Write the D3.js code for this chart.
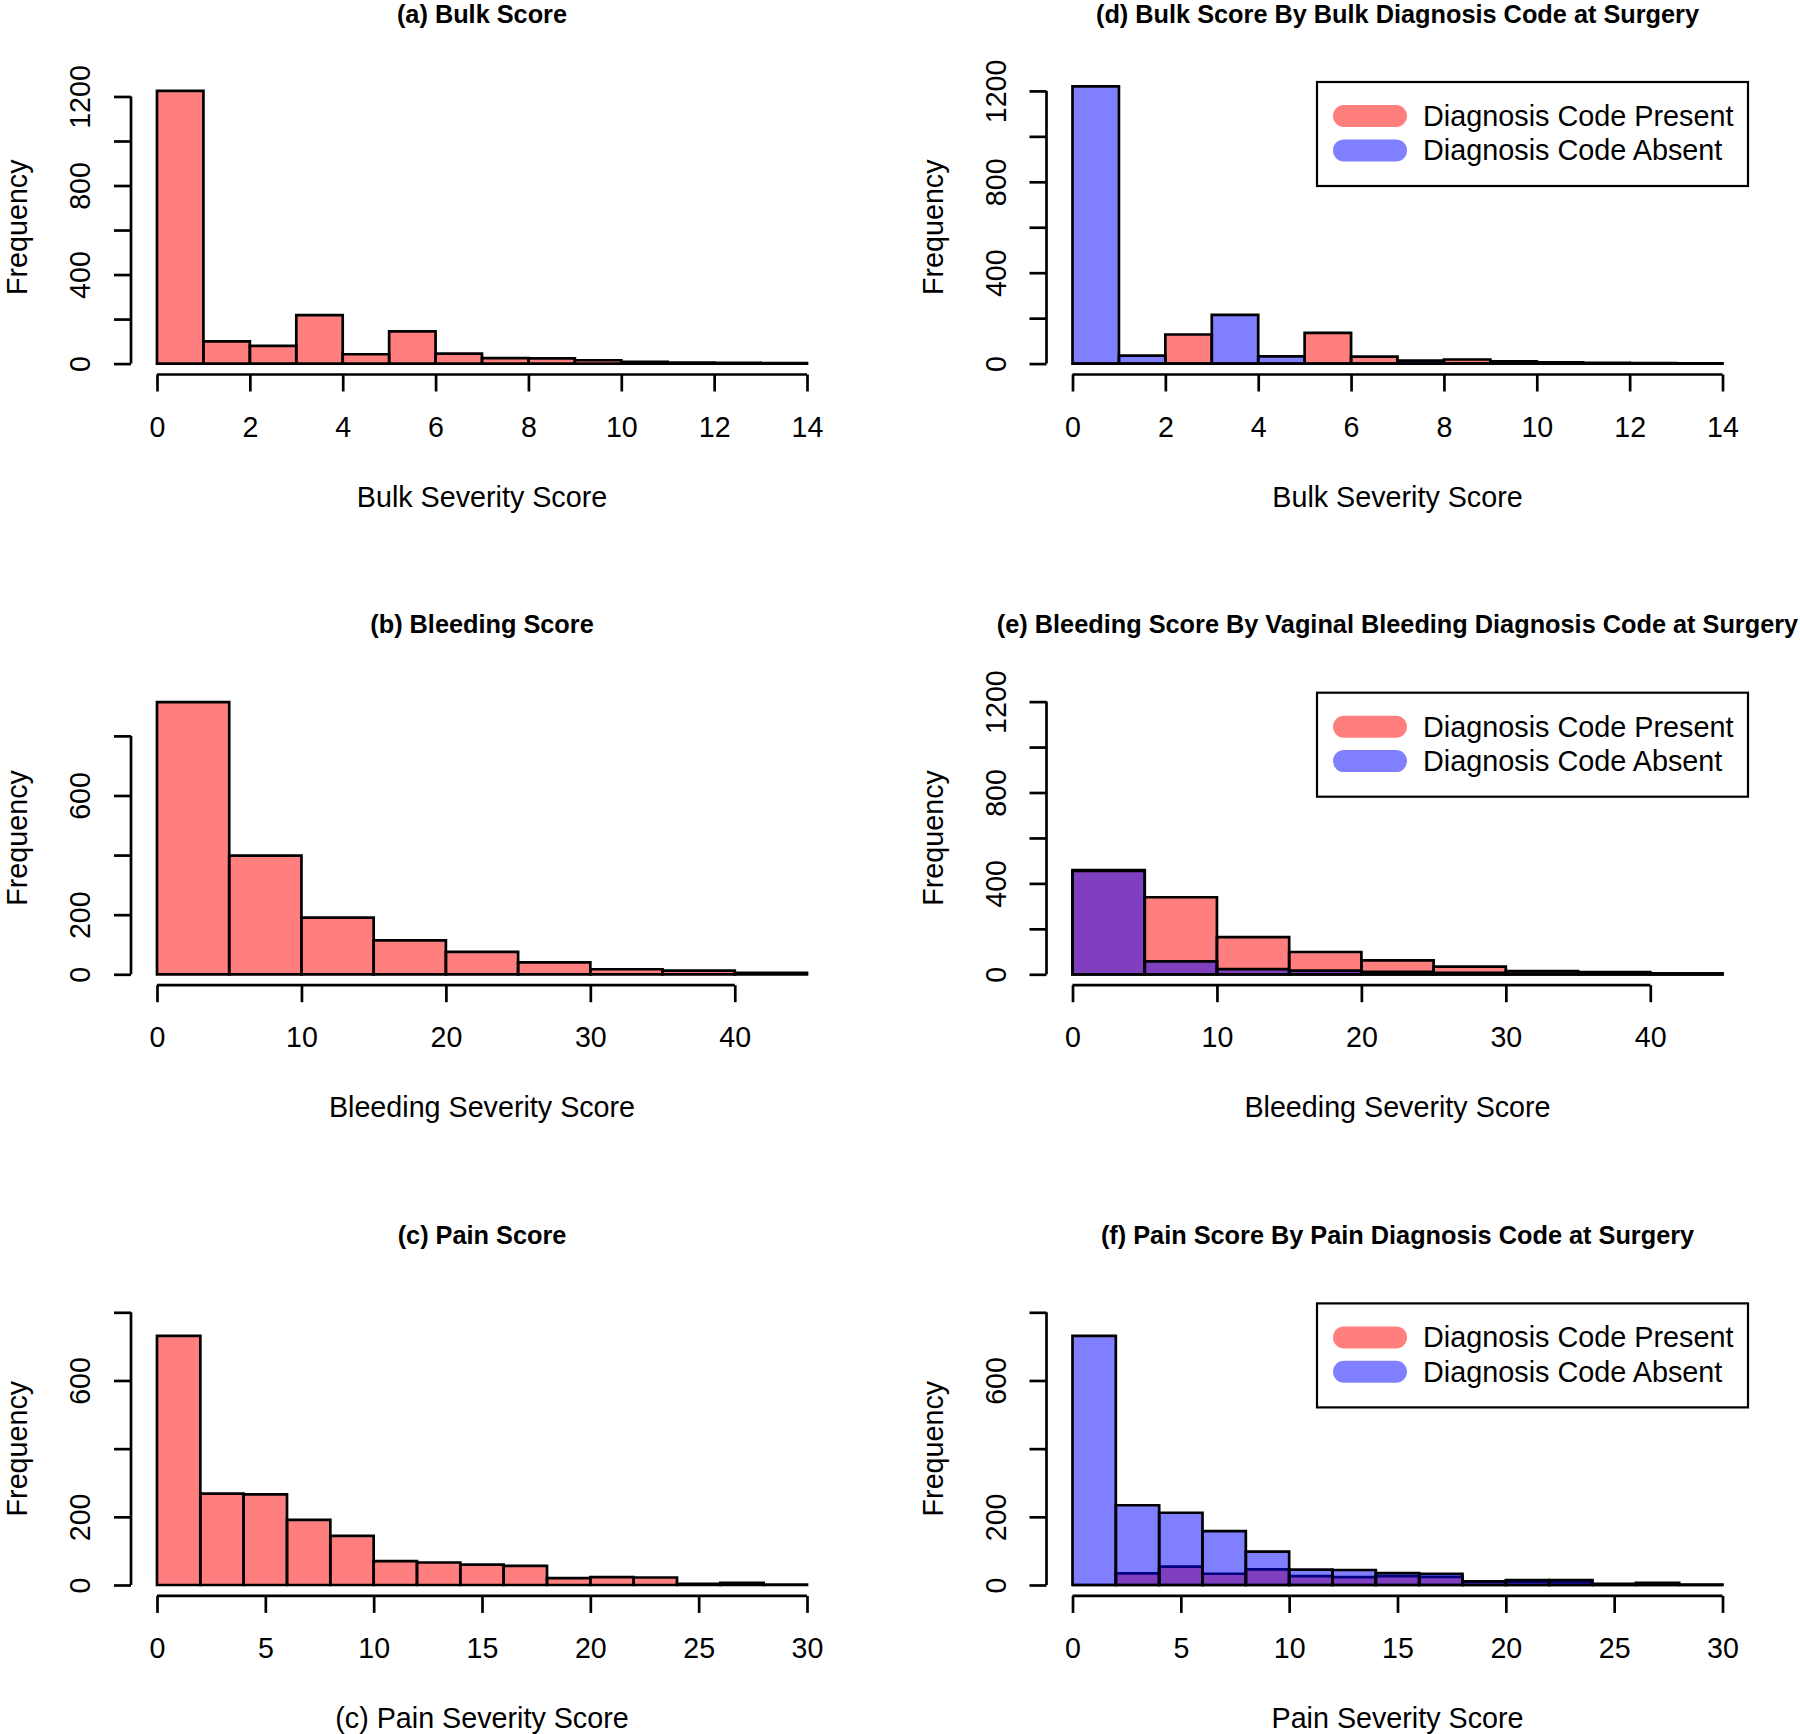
<!DOCTYPE html>
<html>
<head>
<meta charset="utf-8">
<script src="https://cdn.jsdelivr.net/npm/d3@7"></script>
<style>
  body { margin: 0; background: #fff; }
  text { font-family: "Liberation Sans", Arial, sans-serif; fill: #000; }
</style>
</head>
<body>
<div id="canvas"></div>
<script>
// bin counts
const bulkBreaks = [0, 1, 2, 3, 4, 5, 6, 7, 8, 9, 10, 11, 12, 13, 14];
const bulkCounts = [1225, 100, 80, 218, 42, 145, 45, 25, 23, 15, 8, 5, 3, 2];
const bulkPresent = [0, 0, 128, 0, 0, 135, 31, 0, 18, 0, 0, 0, 0, 0];
const bulkAbsent = [1220, 35, 0, 214, 32, 0, 0, 13, 0, 10, 6, 3, 2, 1];

const bleedBreaks = [0, 5, 10, 15, 20, 25, 30, 35, 40, 45];
const bleedCounts = [913, 398, 190, 114, 75, 40, 17, 12, 5];
const bleedPresent = [458, 339, 164, 98, 61, 34, 14, 10, 4];
const bleedAbsent = [455, 57, 23, 16, 11, 6, 3, 2, 1];

const painBreaks = [0, 2, 4, 6, 8, 10, 12, 14, 16, 18, 20, 22, 24, 26, 28, 30];
const painCounts = [731, 268, 266, 191, 144, 70, 66, 60, 56, 20, 23, 22, 3, 6, 1];
const painPresent = [0, 34, 54, 33, 46, 26, 23, 26, 24, 9, 9, 8, 0, 0, 0];
const painAbsent = [731, 234, 212, 158, 98, 45, 44, 35, 33, 11, 14, 14, 3, 6, 1];

// axis ticks and which of them carry a label
const bulkXTicks = [0, 2, 4, 6, 8, 10, 12, 14];
const bleedXTicks = [0, 10, 20, 30, 40];
const painXTicks = [0, 5, 10, 15, 20, 25, 30];
const yTicks1200 = [0, 200, 400, 600, 800, 1000, 1200];
const yLabels1200 = [0, 400, 800, 1200];
const yTicks800 = [0, 200, 400, 600, 800];
const yLabels800 = [0, 200, 600];

const legendLabels = ["Diagnosis Code Present", "Diagnosis Code Absent"];
const red = "rgba(255,0,0,0.5)";
const blue = "rgba(0,0,255,0.5)";

const panels = [
    { col: 0, row: 0, title: "(a) Bulk Score", xlab: "Bulk Severity Score", breaks: bulkBreaks, series: [bulkCounts], ymax: 1225, xTicks: bulkXTicks, yTicks: yTicks1200, yLabels: yLabels1200 },
    { col: 1, row: 0, title: "(d) Bulk Score By Bulk Diagnosis Code at Surgery", xlab: "Bulk Severity Score", breaks: bulkBreaks, series: [bulkPresent, bulkAbsent], ymax: 1200, xTicks: bulkXTicks, yTicks: yTicks1200, yLabels: yLabels1200, legend: true },
    { col: 0, row: 1, title: "(b) Bleeding Score", xlab: "Bleeding Severity Score", breaks: bleedBreaks, series: [bleedCounts], ymax: 915, xTicks: bleedXTicks, yTicks: yTicks800, yLabels: yLabels800 },
    { col: 1, row: 1, title: "(e) Bleeding Score By Vaginal Bleeding Diagnosis Code at Surgery", xlab: "Bleeding Severity Score", breaks: bleedBreaks, series: [bleedPresent, bleedAbsent], ymax: 1200, xTicks: bleedXTicks, yTicks: yTicks1200, yLabels: yLabels1200, legend: true },
    { col: 0, row: 2, title: "(c) Pain Score", xlab: "(c) Pain Severity Score", breaks: painBreaks, series: [painCounts], ymax: 800, xTicks: painXTicks, yTicks: yTicks800, yLabels: yLabels800 },
    { col: 1, row: 2, title: "(f) Pain Score By Pain Diagnosis Code at Surgery", xlab: "Pain Severity Score", breaks: painBreaks, series: [painPresent, painAbsent], ymax: 800, xTicks: painXTicks, yTicks: yTicks800, yLabels: yLabels800, legend: true }
];

const width = 1800;
const height = 1734;
const colLeft = [131, 1046.5];
const rowTop = [80, 690.7, 1301.4];
const pw = 702;
const ph = 294.5;
const lw = 2.7;

const svg = d3.select("#canvas").append("svg")
    .attr("width", width)
    .attr("height", height);

svg.append("rect").attr("width", width).attr("height", height).attr("fill", "#fff");

panels.forEach(p => {
    const L = colLeft[p.col];
    const T = rowTop[p.row];
    const B = T + ph;
    const xmax = p.breaks[p.breaks.length - 1];

    // R style usr range, 4% padding each side
    const x = d3.scaleLinear().domain([-0.04 * xmax, 1.04 * xmax]).range([L, L + pw]);
    const y = d3.scaleLinear().domain([-0.04 * p.ymax, 1.04 * p.ymax]).range([B, T]);

    const g = svg.append("g");

    // bars, first series then the overlay
    p.series.forEach((counts, si) => {
        const fill = si === 0 ? red : blue;
        g.append("g").selectAll("path").data(counts).enter().append("path")
            .attr("d", (c, i) => `M${x(p.breaks[i])},${y(0)}V${y(c)}H${x(p.breaks[i + 1])}V${y(0)}Z`)
            .attr("fill", fill)
            .attr("stroke", "#000")
            .attr("stroke-width", lw)
            .attr("stroke-linejoin", "miter");
    });

    // x axis, line only from first to last tick
    const xa = g.append("g")
        .attr("transform", `translate(0,${B})`)
        .call(d3.axisBottom(x).tickValues(p.xTicks).tickSize(17).tickFormat(d3.format("d")));
    xa.select(".domain").remove();
    xa.append("line")
        .attr("x1", x(p.xTicks[0])).attr("x2", x(p.xTicks[p.xTicks.length - 1]))
        .attr("stroke", "#000").attr("stroke-width", lw);
    xa.selectAll(".tick line").attr("stroke-width", lw);
    xa.selectAll(".tick text")
        .attr("y", 62).attr("dy", null)
        .style("font-size", "28.6px")
        .style("font-family", "'Liberation Sans', Arial, sans-serif");

    // y axis
    const ya = g.append("g")
        .attr("transform", `translate(${L},0)`)
        .call(d3.axisLeft(y).tickValues(p.yTicks).tickSize(17)
            .tickFormat(v => p.yLabels.includes(v) ? String(v) : ""));
    ya.select(".domain").remove();
    ya.append("line")
        .attr("y1", y(p.yTicks[0])).attr("y2", y(p.yTicks[p.yTicks.length - 1]))
        .attr("stroke", "#000").attr("stroke-width", lw);
    ya.selectAll(".tick line").attr("stroke-width", lw);
    ya.selectAll(".tick text")
        .attr("x", null).attr("dy", null)
        .attr("transform", "translate(-41,0) rotate(-90)")
        .attr("text-anchor", "middle")
        .style("font-size", "28.6px")
        .style("font-family", "'Liberation Sans', Arial, sans-serif");

    // titles
    g.append("text")
        .attr("x", L + pw / 2).attr("y", T - 57.5)
        .attr("text-anchor", "middle")
        .style("font-weight", "bold")
        .style("font-size", "25.3px")
        .text(p.title);

    g.append("text")
        .attr("x", L + pw / 2).attr("y", B + 132)
        .attr("text-anchor", "middle")
        .style("font-size", "28.7px")
        .text(p.xlab);

    g.append("text")
        .attr("transform", `translate(${L - 104},${T + ph / 2}) rotate(-90)`)
        .attr("text-anchor", "middle")
        .style("font-size", "28.7px")
        .text("Frequency");

    if (p.legend) {
        const lg = g.append("g").attr("transform", `translate(1317,${T + 2})`);
        lg.append("rect")
            .attr("width", 431).attr("height", 104)
            .attr("fill", "#fff").attr("stroke", "#000").attr("stroke-width", 2.2);
        legendLabels.forEach((lab, i) => {
            const cy = 34 + i * 34.4;
            lg.append("line")
                .attr("x1", 27).attr("x2", 79)
                .attr("y1", cy).attr("y2", cy)
                .attr("stroke", i === 0 ? red : blue)
                .attr("stroke-width", 22)
                .attr("stroke-linecap", "round");
            lg.append("text")
                .attr("x", 106).attr("y", cy + 10)
                .style("font-size", "28.8px")
                .text(lab);
        });
    }
});
</script>
</body>
</html>
